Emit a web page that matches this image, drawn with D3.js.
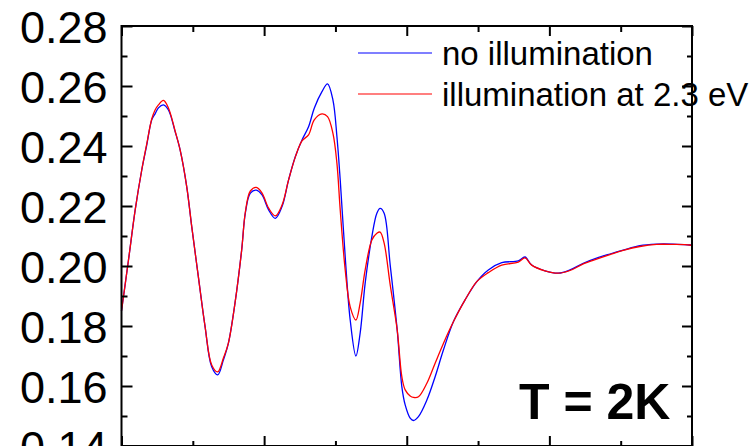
<!DOCTYPE html>
<html>
<head>
<meta charset="utf-8">
<script src="https://cdn.jsdelivr.net/npm/d3@7/dist/d3.min.js"></script>
<style>
  html, body { margin: 0; padding: 0; background: #fff; overflow: hidden; }
  svg { display: block; font-family: "Liberation Sans", Arial, Helvetica, sans-serif; }
</style>
</head>
<body>
<svg id="chart" width="753" height="446"></svg>
<script>
// Spectra: reflectance-like signal vs. energy position (arbitrary x units)
const xs = [0.000, 0.098, 0.192, 0.284, 0.354, 0.424, 0.471, 0.518, 0.588, 0.658,
  0.752, 0.822, 0.915, 0.985, 1.078, 1.172, 1.265, 1.349, 1.429, 1.499,
  1.592, 1.685, 1.737, 1.807, 1.891, 1.971, 2.063, 2.157, 2.251, 2.343,
  2.437, 2.531, 2.623, 2.703, 2.811, 2.889, 2.965, 3.021, 3.067, 3.137,
  3.207, 3.287, 3.347, 3.417, 3.511, 3.581, 3.627, 3.683, 3.768, 3.866,
  3.931, 3.978, 4.048, 4.094, 4.164, 4.282, 4.398, 4.514, 4.654, 4.818,
  4.982, 5.144, 5.332, 5.564, 5.658, 5.752, 5.938, 6.125, 6.289, 6.475,
  6.662, 6.849, 7.035, 7.269, 7.503, 7.735, 7.969, 8.000];

const noIllumination = [0.1850, 0.2020, 0.2187, 0.2320, 0.2403, 0.2487, 0.2507, 0.2527, 0.2537, 0.2520,
  0.2448, 0.2387, 0.2264, 0.2131, 0.1964, 0.1798, 0.1664, 0.1637, 0.1687, 0.1743,
  0.1877, 0.2053, 0.2177, 0.2243, 0.2253, 0.2237, 0.2187, 0.2159, 0.2198, 0.2287,
  0.2364, 0.2420, 0.2464, 0.2526, 0.2581, 0.2607, 0.2553, 0.2431, 0.2287, 0.2031,
  0.1820, 0.1700, 0.1777, 0.1943, 0.2098, 0.2176, 0.2192, 0.2176, 0.2003, 0.1787,
  0.1598, 0.1537, 0.1493, 0.1485, 0.1498, 0.1553, 0.1631, 0.1720, 0.1814, 0.1887,
  0.1948, 0.1987, 0.2011, 0.2017, 0.2030, 0.2003, 0.1984, 0.1976, 0.1987, 0.2009,
  0.2026, 0.2040, 0.2053, 0.2068, 0.2073, 0.2073, 0.2070, 0.2070];

const illumination23 = [0.1850, 0.2020, 0.2187, 0.2320, 0.2407, 0.2490, 0.2520, 0.2537, 0.2552, 0.2527,
  0.2450, 0.2387, 0.2264, 0.2131, 0.1964, 0.1798, 0.1670, 0.1647, 0.1693, 0.1743,
  0.1877, 0.2053, 0.2180, 0.2250, 0.2262, 0.2243, 0.2193, 0.2167, 0.2203, 0.2287,
  0.2363, 0.2417, 0.2437, 0.2487, 0.2507, 0.2498, 0.2442, 0.2342, 0.2187, 0.1987,
  0.1864, 0.1820, 0.1877, 0.1987, 0.2087, 0.2109, 0.2113, 0.2076, 0.1937, 0.1787,
  0.1631, 0.1587, 0.1567, 0.1562, 0.1564, 0.1609, 0.1676, 0.1742, 0.1814, 0.1887,
  0.1948, 0.1978, 0.2003, 0.2013, 0.2027, 0.2003, 0.1984, 0.1976, 0.1985, 0.2007,
  0.2023, 0.2038, 0.2052, 0.2065, 0.2072, 0.2072, 0.2070, 0.2068];

const yMajorTicks = [0.14, 0.16, 0.18, 0.20, 0.22, 0.24, 0.26, 0.28];
const yMinorTicks = [0.15, 0.17, 0.19, 0.21, 0.23, 0.25, 0.27];
const xMajorTicks = [0, 2, 4, 6, 8];
const xMinorTicks = [1, 3, 5, 7];

const seriesNames = ["no illumination", "illumination at 2.3 eV"];
const seriesColors = ["#0000ff", "#ff0000"];
const annotation = "T = 2K";

const svg = d3.select("#chart");
const plot = { left: 121.5, right: 692, top: 26, bottom: 446 };

const x = d3.scaleLinear().domain([0, 8]).range([plot.left, plot.right]);
const y = d3.scaleLinear().domain([0.14, 0.28]).range([plot.bottom, plot.top]);

// curves (blue underneath, red on top)
const line = d3.line()
  .x(d => x(d[0]))
  .y(d => y(d[1]))
  .curve(d3.curveCatmullRom.alpha(0.5));

[noIllumination, illumination23].forEach((vals, i) => {
  svg.append("path")
    .datum(xs.map((v, k) => [v, vals[k]]))
    .attr("fill", "none")
    .attr("stroke", seriesColors[i])
    .attr("stroke-width", 1.3)
    .attr("stroke-linejoin", "round")
    .attr("d", line);
});

// axes with inward ticks
function styleAxis(g) {
  g.select(".domain").remove();
  g.selectAll(".tick line").attr("stroke", "#000").attr("stroke-width", 2);
}

svg.append("g")
  .attr("transform", `translate(${plot.left},0)`)
  .call(d3.axisLeft(y).tickValues(yMajorTicks).tickSize(-11).tickPadding(14)
    .tickFormat(d3.format(".2f")))
  .call(styleAxis)
  .call(g => g.selectAll(".tick text")
    .attr("fill", "#000")
    .attr("font-size", 45)
    .attr("font-family", '"Liberation Sans", Arial, sans-serif')
    .attr("dy", "0.36em"));

svg.append("g")
  .attr("transform", `translate(${plot.left},0)`)
  .call(d3.axisLeft(y).tickValues(yMinorTicks).tickSize(-6).tickFormat(""))
  .call(styleAxis);

svg.append("g")
  .attr("transform", `translate(${plot.right},0)`)
  .call(d3.axisRight(y).tickValues(yMajorTicks).tickSize(-10).tickFormat(""))
  .call(styleAxis);

svg.append("g")
  .attr("transform", `translate(${plot.right},0)`)
  .call(d3.axisRight(y).tickValues(yMinorTicks).tickSize(-5).tickFormat(""))
  .call(styleAxis);

svg.append("g")
  .attr("transform", `translate(0,${plot.bottom})`)
  .call(d3.axisBottom(x).tickValues(xMajorTicks).tickSize(-10).tickFormat(""))
  .call(styleAxis);

svg.append("g")
  .attr("transform", `translate(0,${plot.bottom})`)
  .call(d3.axisBottom(x).tickValues(xMinorTicks).tickSize(-5).tickFormat(""))
  .call(styleAxis);

svg.append("g")
  .attr("transform", `translate(0,${plot.top})`)
  .call(d3.axisTop(x).tickValues(xMajorTicks).tickSize(-10).tickFormat(""))
  .call(styleAxis);

svg.append("g")
  .attr("transform", `translate(0,${plot.top})`)
  .call(d3.axisTop(x).tickValues(xMinorTicks).tickSize(-6).tickFormat(""))
  .call(styleAxis);

// frame
svg.append("rect")
  .attr("x", plot.left)
  .attr("y", plot.top)
  .attr("width", plot.right - plot.left)
  .attr("height", plot.bottom - plot.top)
  .attr("fill", "none")
  .attr("stroke", "#000")
  .attr("stroke-width", 2);

// legend
const legend = svg.append("g").attr("transform", "translate(358,53)");
seriesNames.forEach((name, i) => {
  const row = legend.append("g").attr("transform", `translate(0,${i * 41})`);
  row.append("line")
    .attr("x1", 0).attr("x2", 74)
    .attr("y1", 0).attr("y2", 0)
    .attr("stroke", seriesColors[i])
    .attr("stroke-width", 1.2);
  row.append("text")
    .attr("x", 84)
    .attr("y", 12)
    .attr("font-size", 33)
    .attr("fill", "#000")
    .text(name);
});

// temperature annotation
svg.append("text")
  .attr("x", 519)
  .attr("y", 419)
  .attr("font-size", 50)
  .attr("font-weight", "bold")
  .attr("fill", "#000")
  .text(annotation);
</script>
</body>
</html>
